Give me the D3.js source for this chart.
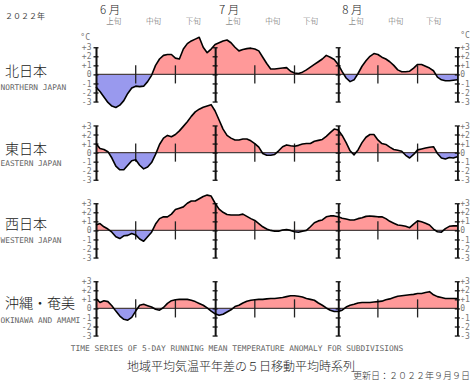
<!DOCTYPE html>
<html><head><meta charset="utf-8">
<script src="https://cdn.jsdelivr.net/npm/d3@7"></script>
<style>body{margin:0;background:#fff} svg{display:block}</style>
</head><body>
<svg id="c" width="471" height="382"></svg>
<script>
// ---- data ----
const regionsJa = ["北日本","東日本","西日本","沖縄・奄美"];
const regionsEn = ["NORTHERN JAPAN","EASTERN JAPAN","WESTERN JAPAN","OKINAWA AND AMAMI"];
const months = ["6 月","7 月","8 月"];
const decades = ["上旬","中旬","下旬"];
const yTicks = [3,2,1,0,-1,-2,-3];
const yearLabel = "２０２２年";
const titleEn = "TIME SERIES OF 5-DAY RUNNING MEAN TEMPERATURE ANOMALY FOR SUBDIVISIONS";
const titleJa = "地域平均気温平年差の５日移動平均時系列";
const updated = "更新日：２０２２年９月９日";

// daily anomalies (°C), 2022-06-01 .. 2022-08-31
const north = [-1.4,-1.9,-2.5,-3.1,-3.5,-3.65,-3.4,-2.9,-2.1,-1.5,
  -1.3,-1.35,-1.3,-0.8,-0.1,1.0,1.7,2.1,2.2,2.2,
  1.8,1.7,2.8,3.4,3.7,3.9,4.1,3.0,2.4,2.8,
  3.3,3.5,3.7,3.8,3.5,3.0,2.6,2.75,2.85,2.9,
  2.8,2.6,1.9,1.2,0.6,0.6,0.65,0.7,0.75,0.35,
  0.15,0.1,0.25,0.5,0.8,1.1,1.4,1.7,2.1,1.9,
  1.65,1.1,0.3,-0.4,-0.8,-0.6,0.1,0.9,1.5,2.0,
  2.3,2.2,1.9,1.7,1.4,1.0,0.5,0.3,0.3,0.35,
  0.7,1.1,1.1,0.9,0.7,0.4,-0.3,-0.6,-0.7,-0.7,
  -0.65,-0.6];
const east = [1.0,0.45,0.35,0.1,-0.6,-1.5,-1.9,-1.9,-1.4,-0.9,
  -0.8,-1.4,-1.8,-1.6,-1.1,-0.2,0.9,1.6,1.9,1.75,
  2.0,2.4,2.9,3.4,4.0,4.5,4.8,5.0,5.15,5.3,
  4.6,3.6,2.6,1.9,1.6,1.4,1.4,1.5,1.5,1.3,
  1.0,0.6,-0.1,-0.3,-0.3,-0.2,0.2,0.65,0.85,0.75,
  0.7,0.8,0.95,1.0,1.0,1.25,1.35,1.45,1.8,2.2,
  2.6,2.5,1.9,1.1,0.2,-0.25,0.3,1.1,1.7,2.0,
  2.0,1.4,1.0,0.9,0.6,0.35,0.25,0.15,-0.3,-0.6,
  -0.2,0.3,0.4,0.5,0.6,0.65,-0.1,-0.6,-0.7,-0.55,
  -0.6,-0.45];
const west = [0.6,0.75,0.4,0.15,-0.2,-0.7,-0.9,-0.6,-0.55,-0.35,
  -0.5,-0.95,-1.2,-0.7,-0.2,0.7,1.3,1.5,1.5,1.8,
  2.3,2.45,2.6,3.0,3.25,3.25,3.5,3.75,3.9,3.8,
  3.0,2.35,2.0,1.75,1.7,1.7,1.7,1.8,1.55,1.3,
  1.1,0.75,0.4,0.15,0.0,-0.1,-0.1,0.05,0.1,0.0,
  -0.15,-0.2,-0.1,0.0,0.4,0.85,1.05,1.15,1.5,1.6,
  1.6,1.5,1.35,1.25,1.15,1.15,1.3,1.4,1.55,1.6,
  1.55,1.5,1.5,1.3,1.0,0.8,0.6,0.55,0.45,0.3,
  0.7,1.05,0.95,0.8,0.6,0.15,-0.15,-0.2,0.2,0.45,
  0.5,0.5];
const okinawa = [1.1,0.65,0.85,0.75,0.3,-0.3,-0.85,-1.2,-1.3,-1.0,
  -0.3,0.35,0.45,0.3,0.15,-0.1,-0.2,0.1,0.55,0.85,
  0.95,1.0,1.0,1.0,0.9,0.75,0.55,0.35,0.05,-0.3,
  -0.6,-0.75,-0.65,-0.4,-0.15,0.2,0.35,0.6,0.8,0.9,
  0.95,1.0,1.0,1.05,1.1,1.1,1.15,1.2,1.3,1.4,
  1.4,1.35,1.25,1.1,1.0,0.9,0.6,0.35,0.05,-0.2,
  -0.35,-0.35,-0.2,0.15,0.35,0.45,0.6,0.65,0.65,0.65,
  0.7,0.75,0.8,0.95,1.05,1.2,1.35,1.4,1.45,1.5,
  1.55,1.65,1.65,1.75,1.85,1.5,1.3,1.2,1.1,1.1,
  1.1,1.1];
const series = [north, east, west, okinawa];

// ---- layout ----
const W = 471, H = 382;
const svg = d3.select("#c");
const start = new Date(Date.UTC(2022,5,1));
const end = new Date(Date.UTC(2022,7,31));
const x = d3.scaleUtc().domain([start,end]).range([96,457.3]);
const dates = north.map((_,i)=>d3.utcDay.offset(start,i));
const monthStarts = [new Date(Date.UTC(2022,5,1)),new Date(Date.UTC(2022,6,1)),new Date(Date.UTC(2022,7,1))];
const bigAxes = [...monthStarts, end];
const decadeTicks = [];
const decadeCenters = [];
monthStarts.forEach((m,mi)=>{
  const y = m.getUTCFullYear(), mo = m.getUTCMonth();
  const last = new Date(Date.UTC(y,mo+1,0)).getUTCDate();
  decadeTicks.push(new Date(Date.UTC(y,mo,11)), new Date(Date.UTC(y,mo,21)));
  decadeCenters.push(new Date(Date.UTC(y,mo,5,12)), new Date(Date.UTC(y,mo,15,12)),
                     new Date(Date.UTC(y,mo,21 + (last-20)/2 - 1, (last%2)?0:12)));
});
const zeros = [74.4,152.6,230.4,308.4];
const k = 9.05;
const labelY = [[75.5,90],[153.5,166],[228.5,243],[308,322.5]];

const font = "'DejaVu Sans Mono', 'Liberation Mono', monospace";
const jfont = "'Noto Sans CJK JP', sans-serif";

// header
svg.append("text").attr("x",5).attr("y",19).attr("font-family",jfont).attr("font-size",8)
  .attr("fill","#444").text(yearLabel);
svg.selectAll(".mon").data(months).join("text")
  .attr("x",(d,i)=>x(monthStarts[i])+4).attr("y",13.5)
  .attr("font-family",jfont).attr("font-size",11.5).attr("font-weight",300).attr("fill","#222").text(d=>d);
svg.selectAll(".dec").data(decadeCenters).join("text")
  .attr("x",d=>x(d)).attr("y",24).attr("text-anchor","middle")
  .attr("font-family",jfont).attr("font-size",7.5).attr("font-weight",300).attr("fill","#555")
  .text((d,i)=>decades[i%3]);

const defs = svg.append("defs");

series.forEach((vals,p)=>{
  const z = zeros[p];
  const y = d3.scaleLinear().domain([-3,3]).range([z+3*k, z-3*k]);
  const data = vals.map((v,i)=>({date:dates[i], v}));
  const g = svg.append("g");
  defs.append("clipPath").attr("id","pos"+p).append("rect")
    .attr("x",x(start)).attr("y",0).attr("width",x(end)-x(start)).attr("height",y(0));
  defs.append("clipPath").attr("id","neg"+p).append("rect")
    .attr("x",x(start)).attr("y",y(0)).attr("width",x(end)-x(start)).attr("height",H-y(0));
  const area = d3.area().x(d=>x(d.date)).y0(y(0)).y1(d=>y(d.v));
  g.append("path").datum(data).attr("d",area).attr("fill","#ff9999").attr("clip-path",`url(#pos${p})`);
  g.append("path").datum(data).attr("d",area).attr("fill","#9999ee").attr("clip-path",`url(#neg${p})`);
  g.append("line").attr("x1",x(start)).attr("x2",x(end)).attr("y1",y(0)).attr("y2",y(0))
    .attr("stroke","#4a4040").attr("stroke-width",1.4);
  g.selectAll(".dt").data(decadeTicks).join("line")
    .attr("x1",d=>x(d)).attr("x2",d=>x(d)).attr("y1",y(1)).attr("y2",y(-1))
    .attr("stroke","#222").attr("stroke-width",1.3);
  bigAxes.forEach((dt,ai)=>{
    const xx = x(dt);
    const fmt = d=> d>0?"+"+d:(d<0?"-"+(-d):"0");
    const aL = g.append("g").attr("transform",`translate(${xx},0)`)
      .call(d3.axisLeft(y).tickValues(yTicks).tickSize(2.5).tickSizeOuter(0)
        .tickFormat(d=> ai===0 ? fmt(d) : ""));
    const aR = g.append("g").attr("transform",`translate(${xx},0)`)
      .call(d3.axisRight(y).tickValues(yTicks).tickSize(2.5).tickSizeOuter(0)
        .tickFormat(d=> ai===bigAxes.length-1 ? fmt(d) : ""));
    [aL,aR].forEach(a=>{
      a.select(".domain").attr("stroke","#111").attr("stroke-width",1.6);
      a.selectAll(".tick line").attr("stroke","#111").attr("stroke-width",1.3);
      a.selectAll(".tick text").attr("font-family",font).attr("font-size",8).attr("fill","#777");
    });
    aL.selectAll(".tick text").attr("x",-4.5);
    aR.selectAll(".tick text").attr("x",3);
  });
  g.append("path").datum(data).attr("d",d3.line().x(d=>x(d.date)).y(d=>y(d.v)))
    .attr("fill","none").attr("stroke","#000").attr("stroke-width",1.6).attr("stroke-linejoin","round");
  if(p===0){
    g.append("text").attr("x",x(start)-6).attr("y",y(3)-7).attr("text-anchor","end")
      .attr("font-family",font).attr("font-size",8).attr("fill","#777").text("°C");
    g.append("text").attr("x",x(end)+3).attr("y",y(3)-9).attr("font-family",font)
      .attr("font-size",8).attr("fill","#777").text("°C");
  }
  svg.append("text").attr("x",5).attr("y",labelY[p][0]).attr("font-family",jfont)
    .attr("font-size",14).attr("font-weight",300).attr("fill","#222").text(regionsJa[p]);
  svg.append("text").attr("x",0.5).attr("y",labelY[p][1]).attr("font-family",font)
    .attr("font-size",7.8).attr("fill","#666").text(regionsEn[p]);
});

// footer
svg.append("text").attr("x",237).attr("y",350.5).attr("text-anchor","middle")
  .attr("font-family",font).attr("font-size",7.9).attr("fill","#666").text(titleEn);
svg.append("text").attr("x",241).attr("y",370.5).attr("text-anchor","middle")
  .attr("font-family",jfont).attr("font-size",12).attr("font-weight",300).attr("fill","#222").text(titleJa);
svg.append("text").attr("x",470).attr("y",379.3).attr("text-anchor","end")
  .attr("font-family",jfont).attr("font-size",9).attr("font-weight",300).attr("fill","#333").text(updated);
</script>
</body></html>
